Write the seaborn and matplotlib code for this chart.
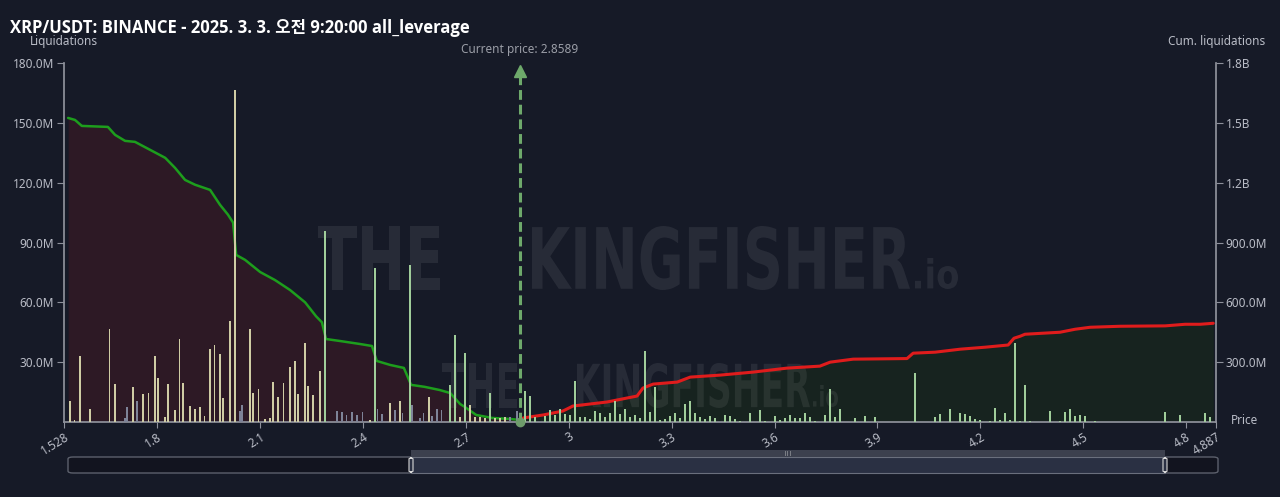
import numpy as np
import pandas as pd
import matplotlib
matplotlib.use("Agg")
import matplotlib.pyplot as plt
import seaborn as sns
from matplotlib.patches import FancyBboxPatch, Rectangle, PathPatch
from matplotlib.textpath import TextPath
from matplotlib.font_manager import FontProperties
from matplotlib.transforms import Affine2D, IdentityTransform
from matplotlib.ticker import FuncFormatter

# liquidation bars (price, value in M, colour group)
bar_price = [1.545, 1.559, 1.574, 1.604, 1.661, 1.676, 1.705, 1.711, 1.730, 1.741,
             1.759, 1.774, 1.793, 1.803, 1.823, 1.832, 1.851, 1.865, 1.875, 1.895,
             1.909, 1.924, 1.938, 1.953, 1.967, 1.982, 1.992, 2.012, 2.027, 2.041,
             2.046, 2.070, 2.080, 2.095, 2.114, 2.129, 2.138, 2.153, 2.168, 2.187,
             2.202, 2.211, 2.231, 2.240, 2.255, 2.275, 2.289, 2.323, 2.338, 2.352,
             2.367, 2.382, 2.398, 2.420, 2.435, 2.442, 2.456, 2.479, 2.493, 2.507,
             2.515, 2.537, 2.542, 2.566, 2.576, 2.592, 2.600, 2.615, 2.629, 2.654,
             2.668, 2.683, 2.697, 2.712, 2.727, 2.741, 2.756, 2.770, 2.785, 2.799,
             2.814, 2.829, 2.848,
             2.872, 2.887, 2.902, 2.931, 2.945, 2.960, 2.974, 2.989, 3.004, 3.018,
             3.033, 3.047, 3.062, 3.076, 3.091, 3.106, 3.120, 3.135, 3.149, 3.164,
             3.179, 3.193, 3.208, 3.222, 3.237, 3.251, 3.266, 3.281, 3.295, 3.310,
             3.324, 3.339, 3.353, 3.368, 3.383, 3.397, 3.412, 3.426, 3.455, 3.470,
             3.485, 3.499, 3.528, 3.558, 3.572, 3.601, 3.616, 3.630, 3.645, 3.660,
             3.674, 3.689, 3.703, 3.718, 3.747, 3.762, 3.776, 3.791, 3.835, 3.864,
             3.893, 4.010, 4.068, 4.082, 4.112, 4.141, 4.155, 4.170, 4.184, 4.199,
             4.228, 4.243, 4.257, 4.272, 4.286, 4.301, 4.316, 4.330, 4.345, 4.403,
             4.432, 4.447, 4.461, 4.476, 4.491, 4.505, 4.534, 4.739, 4.782, 4.855,
             4.870]
bar_value = [10.5, 1.0, 33.0, 6.5, 46.6, 19.0, 2.0, 7.5, 17.5, 10.5,
             14.0, 14.5, 33.0, 22.0, 2.5, 19.0, 6.0, 41.6, 19.5, 8.0,
             6.5, 7.5, 3.0, 36.6, 38.6, 34.0, 12.0, 50.7, 166.5, 5.5,
             8.5, 46.6, 14.5, 16.5, 1.5, 2.0, 20.0, 12.5, 19.5, 27.6,
             30.6, 14.0, 39.6, 18.0, 13.5, 25.6, 96.0, 5.5, 5.0, 3.5,
             5.0, 3.5, 5.0, 1.0, 77.0, 6.5, 4.0, 9.5, 6.0, 10.5,
             4.5, 78.5, 8.5, 2.0, 4.5, 12.5, 3.0, 6.5, 6.0, 18.5,
             43.6, 2.5, 34.6, 8.5, 2.5, 2.5, 2.0, 14.5, 2.0, 2.0,
             2.5, 2.5, 5.5,
             15.6, 13.0, 2.5, 3.0, 6.0, 3.5, 6.5, 4.0, 3.5, 20.5,
             2.5, 2.5, 1.5, 5.5, 4.5, 2.5, 4.5, 10.5, 4.0, 6.5,
             2.5, 3.5, 2.0, 35.6, 5.0, 17.5, 1.0, 1.5, 3.0, 4.5,
             2.0, 9.0, 10.5, 4.5, 2.5, 1.5, 3.0, 2.0, 3.5, 3.0,
             1.5, 0.5, 4.5, 6.0, 0.5, 3.0, 1.0, 2.0, 3.5, 2.0,
             2.0, 4.5, 2.5, 0.5, 3.5, 16.5, 2.5, 6.5, 2.0, 3.0,
             2.5, 24.6, 2.5, 4.0, 6.5, 4.5, 4.0, 3.0, 1.5, 1.0,
             0.5, 7.0, 1.0, 4.5, 1.0, 39.6, 0.5, 18.5, 0.5, 5.5,
             0.5, 5.0, 6.5, 3.0, 3.5, 3.0, 0.5, 5.0, 3.5, 4.5,
             2.5]
bar_kind = list("kkkkkkggkg" "kkkkkkkkkk" "kkkkkkkkkg" "gkkkkkkkkk" "kkkkkklggg"
                "gggklggkgk" "glgggkgggl" "lklkkkklkk" "kgg") + ["l"] * 91

# cumulative liquidations (price, value in B)
long_cum_price = [1.540, 1.560, 1.580, 1.656, 1.677, 1.706, 1.735, 1.779, 1.823, 1.852,
                  1.881, 1.910, 1.954, 1.983, 2.006, 2.021, 2.030, 2.056, 2.100, 2.143,
                  2.187, 2.231, 2.263, 2.280, 2.292, 2.333, 2.391, 2.426, 2.440, 2.479,
                  2.519, 2.540, 2.580, 2.624, 2.654, 2.683, 2.697, 2.730, 2.777, 2.829,
                  2.858]
long_cum_value = [1.525, 1.515, 1.485, 1.480, 1.440, 1.410, 1.405, 1.365, 1.325, 1.274,
                  1.214, 1.190, 1.164, 1.089, 1.040, 1.000, 0.838, 0.813, 0.752, 0.712,
                  0.662, 0.600, 0.530, 0.500, 0.416, 0.406, 0.391, 0.381, 0.306, 0.286,
                  0.271, 0.186, 0.176, 0.160, 0.145, 0.090, 0.075, 0.035, 0.020, 0.015,
                  0.010]
short_cum_price = [2.867, 2.925, 2.983, 3.012, 3.111, 3.199, 3.216, 3.246, 3.316, 3.354,
                   3.441, 3.537, 3.636, 3.732, 3.762, 3.829, 3.986, 4.004, 4.068, 4.141,
                   4.214, 4.281, 4.298, 4.316, 4.330, 4.432, 4.476, 4.520, 4.607, 4.739,
                   4.797, 4.841, 4.879]
short_cum_value = [0.020, 0.035, 0.055, 0.080, 0.100, 0.130, 0.170, 0.190, 0.200, 0.225,
                   0.235, 0.250, 0.270, 0.280, 0.300, 0.315, 0.318, 0.345, 0.350, 0.365,
                   0.375, 0.386, 0.420, 0.430, 0.440, 0.450, 0.465, 0.475, 0.480, 0.482,
                   0.490, 0.490, 0.495]

current_price = 2.8589
x_ticks = [1.528, 1.8, 2.1, 2.4, 2.7, 3.0, 3.3, 3.6, 3.9, 4.2, 4.5, 4.8, 4.887]
x_labels = ["1.528", "1.8", "2.1", "2.4", "2.7", "3", "3.3", "3.6", "3.9", "4.2", "4.5", "4.8", "4.887"]
left_ticks = [30, 60, 90, 120, 150, 180]
right_ticks = [0.3, 0.6, 0.9, 1.2, 1.5, 1.8]

BG = "#161a27"
TXT = "#b9bcc6"
AXC = "#8e919b"
H = 497

sns.set_theme(style="dark", rc={"axes.facecolor": BG, "figure.facecolor": BG})
plt.rcParams["font.family"] = ["Noto Sans", "Noto Sans CJK KR", "DejaVu Sans"]

df = pd.DataFrame({"price": bar_price, "value": bar_value, "kind": bar_kind})

fig = plt.figure(figsize=(12.8, 4.97), dpi=100, facecolor=BG)
ax2 = fig.add_axes([0.05, 0.151, 0.9, 0.722])
ax = ax2.twinx()
ax2.yaxis.tick_right()
ax.yaxis.tick_left()
ax.yaxis.set_label_position("left")
ax2.set_facecolor(BG)
ax.patch.set_visible(False)

# cumulative areas + lines
ax2.fill_between(long_cum_price, long_cum_value, color="#2d1925", lw=0)
ax2.fill_between(short_cum_price, short_cum_value, color="#17231f", lw=0)
sns.lineplot(x=long_cum_price, y=long_cum_value, ax=ax2, color="#1d9e1d", lw=1.8, errorbar=None)
sns.lineplot(x=short_cum_price, y=short_cum_value, ax=ax2, color="#e01c1c", lw=2.2, errorbar=None)

# watermark, squeezed into its pixel box
wm_font = FontProperties(family="DejaVu Sans", weight="bold")


def watermark(s, x0, x1, ytop, ybot):
    tp = TextPath((0, 0), s, size=1, prop=wm_font)
    bb = tp.get_extents()
    tr = (Affine2D().translate(-bb.x0, -bb.y0)
          .scale((x1 - x0) / bb.width, (ybot - ytop) / bb.height)
          .translate(x0, H - ybot))
    ax2.add_artist(PathPatch(tr.transform_path(tp), transform=IdentityTransform(),
                             fc="white", alpha=0.075, lw=0))


watermark("THE", 318, 440, 226, 290)
watermark("KINGFISHER", 532, 910, 226, 290)
watermark(".io", 915, 958, 258, 289)
watermark("THE", 442, 517, 363, 408)
watermark("KINGFISHER", 577, 810, 363, 408)
watermark(".io", 813, 838, 385, 407)

# liquidation bars
sns.barplot(data=df, x="price", y="value", hue="kind", ax=ax, native_scale=True,
            dodge=False, width=1.0, errorbar=None, legend=False, linewidth=0,
            palette={"k": "#d6d29d", "g": "#7a809c", "l": "#9ad592"})

# current price marker
ax.vlines(current_price, 0, 173, color="#6ea96b", lw=2.2, linestyles=(0, (3.2, 1.6)), zorder=5)
ax.plot([current_price], [176], marker="^", ms=9, color="#6ea96b", zorder=5, clip_on=False)
ax.plot([current_price], [0], marker="o", ms=6, color="#6e9c6b", zorder=6, clip_on=False)

for a in (ax, ax2):
    a.set_xlim(1.528, 4.887)
    a.set_xlabel("")
    a.set_ylabel("")
    a.grid(False)
    for s in a.spines.values():
        s.set_visible(False)

ax.set_ylim(0, 180)
ax2.set_ylim(0, 1.8)
ax.set_yticks(left_ticks)
ax.yaxis.set_major_formatter(FuncFormatter(lambda v, p: f"{v:.1f}M"))
ax2.set_yticks(right_ticks)
ax2.yaxis.set_major_formatter(FuncFormatter(lambda v, p: f"{v:.1f}B" if v >= 1 else f"{v * 1000:.1f}M"))
ax.set_xticks(x_ticks)
ax.set_xticklabels(x_labels)
ax2.set_xticks(x_ticks)
ax2.set_xticklabels(x_labels, rotation=32, ha="right", rotation_mode="anchor")
ax.tick_params(axis="x", bottom=False, labelbottom=False)

ax.spines["left"].set_visible(True)
ax.spines["left"].set_color(AXC)
ax2.spines["right"].set_visible(True)
ax2.spines["right"].set_color(AXC)
ax2.spines["bottom"].set_visible(True)
ax2.spines["bottom"].set_color(AXC)
ax.tick_params(axis="y", left=True, colors=TXT, labelsize=8.5, length=5, width=0.8, color=AXC, pad=2)
ax2.tick_params(axis="y", right=True, colors=TXT, labelsize=8.5, length=5, width=0.8, color=AXC, pad=2)
ax2.tick_params(axis="x", bottom=True, colors=TXT, labelsize=8.5, length=4, width=0.8, color=AXC, pad=2)

# texts
fig.text(10 / 1280, 1 - 28 / H, "XRP/USDT: BINANCE - 2025. 3. 3. 오전 9:20:00 all_leverage",
         ha="left", va="center", fontsize=12, fontweight="bold", color="white",
         family=["Open Sans", "Noto Sans CJK KR", "DejaVu Sans"])
fig.text(64 / 1280, 1 - 42 / H, "Liquidations", ha="center", va="center", fontsize=8.5, color=TXT)
fig.text(1217 / 1280, 1 - 42 / H, "Cum. liquidations", ha="center", va="center", fontsize=8.5, color=TXT)
fig.text(1245 / 1280, 1 - 421 / H, "Price", ha="center", va="center", fontsize=8.5, color=TXT)
fig.text(520 / 1280, 1 - 50 / H, "Current price: 2.8589", ha="center", va="center", fontsize=8.5, color="#9a9da6")

# zoom slider at the bottom
fig.add_artist(FancyBboxPatch((68 / 1280, 1 - 473 / H), 1150 / 1280, 16 / H,
                              boxstyle="round,pad=0,rounding_size=0.004", transform=fig.transFigure,
                              fc="#12141f", ec="#5c606c", lw=1))
fig.add_artist(Rectangle((411 / 1280, 1 - 473 / H), 754 / 1280, 16 / H, transform=fig.transFigure,
                         fc="#2a3043", ec="#6a6f7d", lw=0.8))
fig.add_artist(Rectangle((411 / 1280, 1 - 457 / H), 754 / 1280, 7 / H, transform=fig.transFigure,
                         fc="#3c404e", ec="none"))
for hx in (411, 1165):
    fig.add_artist(FancyBboxPatch(((hx - 2) / 1280, 1 - 472 / H), 4 / 1280, 14 / H,
                                  boxstyle="round,pad=0,rounding_size=0.002", transform=fig.transFigure,
                                  fc="#2a3043", ec="#d8d8d8", lw=0.8))
fig.text(788 / 1280, 1 - 454 / H, "|||", ha="center", va="center", fontsize=4, color="#e0e0e0")

fig.savefig("out.png", dpi=100, facecolor=BG)
